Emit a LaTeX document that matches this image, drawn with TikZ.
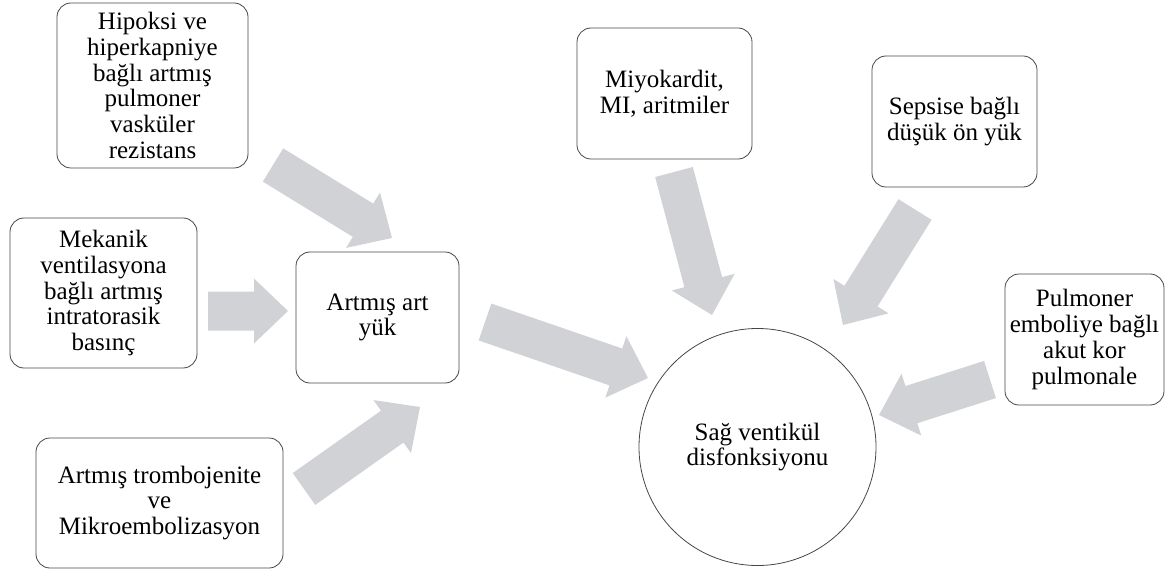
\documentclass[tikz,border=0pt]{standalone}
\usepackage{fontspec}
\setmainfont{Liberation Serif}
\usetikzlibrary{calc}
\definecolor{arrowgray}{RGB}{208,210,213}
\definecolor{edgegray}{RGB}{70,70,70}
% block arrow from tail coordinate #1 to tip coordinate #2
\newcommand{\blockarrow}[2]{%
  \coordinate (neck) at ($(#2)!34pt!(#1)$);
  \fill[arrowgray] ($(#1)!19.5pt!90:(#2)$) -- ($(neck)!19.5pt!90:(#2)$)
    -- ($(neck)!32.5pt!90:(#2)$) -- (#2) -- ($(neck)!32.5pt!-90:(#2)$)
    -- ($(neck)!19.5pt!-90:(#2)$) -- ($(#1)!19.5pt!-90:(#2)$) -- cycle;}
\begin{document}
\begin{tikzpicture}[x=1pt,y=-1pt,
  txt/.style={font=\fontsize{25}{25.8}\selectfont, align=center, inner sep=2pt},
  box/.style={txt, draw=edgegray, line width=0.8pt, rounded corners=14pt},
  bigcircle/.style={txt, circle, draw=edgegray, line width=0.8pt}]
\useasboundingbox (0,0) rectangle (1165,572);

\node[box, minimum width=191pt, minimum height=165pt] (hip) at (152.5,85.5)
  {Hipoksi ve\\hiperkapniye\\bağlı artmış\\pulmoner\\vasküler\\rezistans};
\node[box, minimum width=187pt, minimum height=150pt] (mek) at (103.5,293)
  {Mekanik\\ventilasyona\\bağlı artmış\\intratorasik\\basınç};
\node[box, minimum width=163pt, minimum height=131pt] (art) at (377.5,317.5)
  {Artmış art\\yük};
\node[box, minimum width=247pt, minimum height=130pt] (tro) at (159.5,503)
  {Artmış trombojenite\\ve\\Mikroembolizasyon};
\node[box, minimum width=175pt, minimum height=131pt] (miy) at (664.5,93.5)
  {Miyokardit,\\MI, aritmiler};
\node[box, minimum width=165pt, minimum height=131pt] (sep) at (954.5,121.5)
  {Sepsise bağlı\\düşük ön yük};
\node[box, minimum width=159pt, minimum height=131pt] (pul) at (1084.5,339.5)
  {Pulmoner\\emboliye bağlı\\akut kor\\pulmonale};
\node[bigcircle, minimum size=237pt] (sag) at (757.5,447)
  {Sağ ventikül\\disfonksiyonu};

% arrow tails and tips
\coordinate (hipT) at (273,165);   \coordinate (hipH) at (392,238);
\coordinate (mekT) at (208,311);   \coordinate (mekH) at (288,311);
\coordinate (troT) at (304,489);   \coordinate (troH) at (420,407);
\coordinate (artT) at (485,322);   \coordinate (artH) at (648,378);
\coordinate (miyT) at (674,172);   \coordinate (miyH) at (712,315);
\coordinate (sepT) at (915,209.5); \coordinate (sepH) at (843,325);
\coordinate (pulT) at (990,379.5); \coordinate (pulH) at (879,415);

\blockarrow{hipT}{hipH}
\blockarrow{mekT}{mekH}
\blockarrow{troT}{troH}
\blockarrow{artT}{artH}
\blockarrow{miyT}{miyH}
\blockarrow{sepT}{sepH}
\blockarrow{pulT}{pulH}
\end{tikzpicture}
\end{document}
